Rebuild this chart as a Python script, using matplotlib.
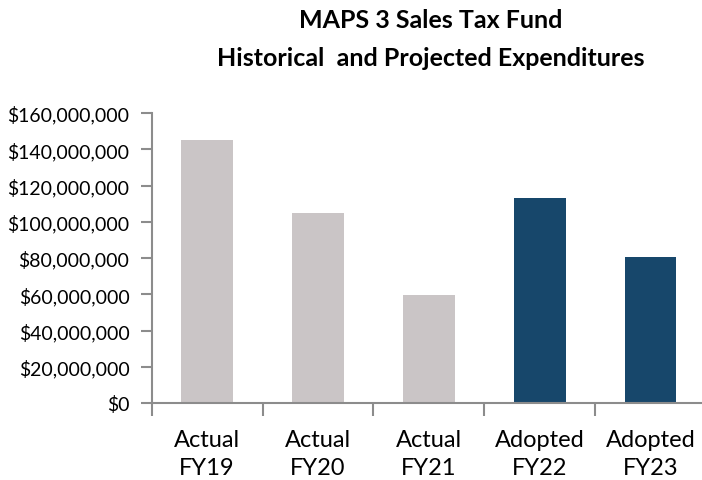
import matplotlib.pyplot as plt
from matplotlib.ticker import FuncFormatter

# Data
categories = ['Actual\nFY19', 'Actual\nFY20', 'Actual\nFY21', 'Adopted\nFY22', 'Adopted\nFY23']
expenditures = [145_000_000, 104_800_000, 59_600_000, 113_000_000, 80_500_000]
bar_colors = ['#CAC5C6', '#CAC5C6', '#CAC5C6', '#17476B', '#17476B']

plt.rcParams['font.family'] = ['Lato', 'DejaVu Sans']

fig = plt.figure(figsize=(7.02, 4.81), dpi=100)
# axes box in pixels: left 151.7, right ~706, bottom 404 (from top), top 114
W, H = 702, 481
ax = fig.add_axes([151.7 / W, (H - 404) / H, (706 - 151.7) / W, (404 - 114) / H])

x = range(len(categories))
ax.bar(x, expenditures, width=0.466, color=bar_colors)

ax.set_xlim(-0.5, len(categories) - 0.5)
ax.set_ylim(0, 160_000_000)
ax.set_yticks(range(0, 160_000_001, 20_000_000))
ax.yaxis.set_major_formatter(FuncFormatter(lambda v, p: f'${v:,.0f}'))

# category labels centred, ticks at category boundaries
ax.set_xticks(list(x))
ax.set_xticklabels(categories, fontsize=17, linespacing=1.4)
ax.set_xticks([i - 0.5 for i in range(len(categories) + 1)], minor=True)
ax.tick_params(axis='x', which='major', length=0, pad=19)
ax.tick_params(axis='x', which='minor', length=9, width=1.5, color='#8C8C8C', direction='out')
ax.tick_params(axis='y', length=8, width=1.5, color='#8C8C8C', labelsize=14, pad=8)

for s in ['top', 'right']:
    ax.spines[s].set_visible(False)
for s in ['left', 'bottom']:
    ax.spines[s].set_color('#8C8C8C')
    ax.spines[s].set_linewidth(1.5)

fig.text(431 / W, 1 - 21 / H, 'MAPS 3 Sales Tax Fund', ha='center', va='center',
         fontsize=18, fontweight='bold')
fig.text(431 / W, 1 - 58 / H, 'Historical  and Projected Expenditures', ha='center', va='center',
         fontsize=18, fontweight='bold')

fig.savefig('out.png', dpi=100)
